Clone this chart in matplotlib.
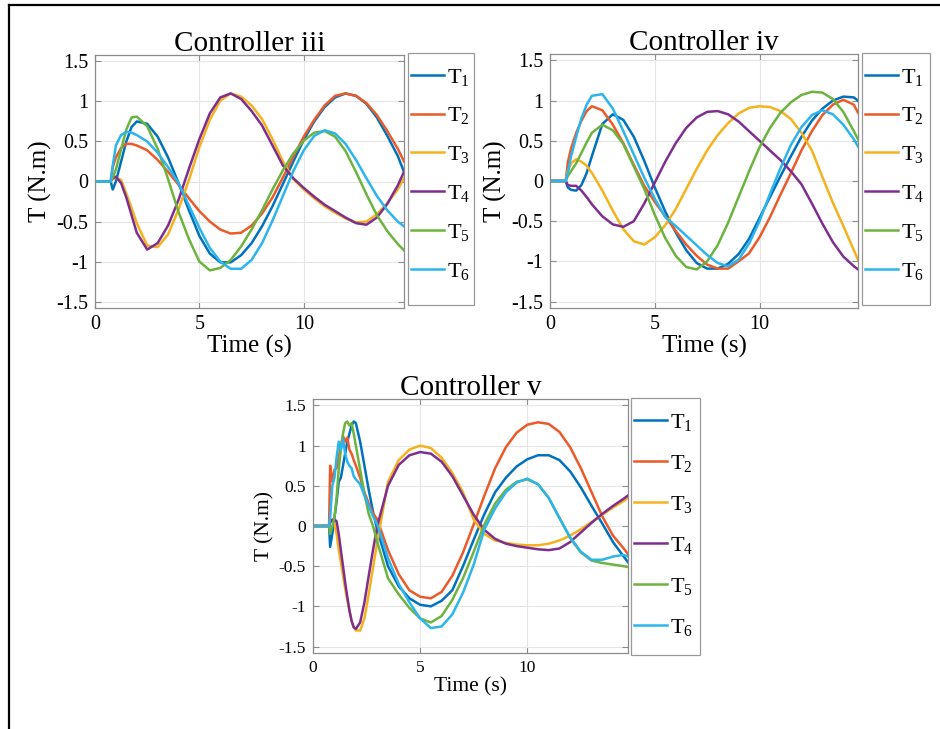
import matplotlib
matplotlib.use("Agg")
import matplotlib.pyplot as plt
from matplotlib.lines import Line2D
from matplotlib.patches import Rectangle
from matplotlib.ticker import FormatStrFormatter

plt.rcParams["font.family"] = ["Liberation Serif", "DejaVu Serif"]
plt.rcParams["mathtext.fontset"] = "custom"
plt.rcParams["mathtext.rm"] = "Liberation Serif"
plt.rcParams["mathtext.it"] = "Liberation Serif:italic"
plt.rcParams["axes.unicode_minus"] = False

colors = ["#0072BD", "#EB5A28", "#F5B21E", "#7E2F8E", "#6DB33F", "#2BB5EC"]
labels = ["T$_{%d}$" % (k + 1) for k in range(6)]

# ---- Controller iii ----
t_iii = [0, 0.75, 0.85, 1.0, 1.25, 1.5, 1.75, 2.0, 2.5, 3.0, 3.5, 4.0, 4.5, 5.0, 5.5, 6.0, 6.5,
         7.0, 7.5, 8.0, 8.5, 9.0, 9.5, 10.0, 10.5, 11.0, 11.5, 12.0, 12.5, 13.0, 13.5, 14.0, 14.5, 14.8]
T1_iii = [0, 0, -0.1, 0.0, 0.25, 0.5, 0.68, 0.75, 0.72, 0.56, 0.30, -0.02, -0.36, -0.68, -0.9, -1.01, -1.01,
          -0.92, -0.77, -0.56, -0.31, -0.03, 0.25, 0.52, 0.75, 0.93, 1.05, 1.1, 1.07, 0.97, 0.8, 0.57, 0.32, 0.12]
T2_iii = [0, 0, 0.18, 0.3, 0.42, 0.47, 0.47, 0.45, 0.39, 0.27, 0.12, -0.04, -0.21, -0.37, -0.5, -0.6, -0.65,
          -0.64, -0.55, -0.4, -0.2, 0.05, 0.31, 0.56, 0.77, 0.95, 1.07, 1.1, 1.07, 0.98, 0.83, 0.63, 0.41, 0.25]
T3_iii = [0, 0, 0.03, 0.05, 0.02, -0.15, -0.33, -0.52, -0.8, -0.82, -0.66, -0.35, 0.02, 0.43, 0.77, 1.01, 1.1,
          1.06, 0.95, 0.78, 0.53, 0.25, 0.03, -0.1, -0.21, -0.31, -0.39, -0.46, -0.51, -0.5, -0.41, -0.27, -0.1, 0.04]
T4_iii = [0, 0, 0.04, 0.06, -0.02, -0.2, -0.42, -0.64, -0.85, -0.77, -0.55, -0.23, 0.16, 0.53, 0.85, 1.05, 1.1,
          1.03, 0.88, 0.7, 0.45, 0.2, 0.04, -0.08, -0.19, -0.29, -0.37, -0.45, -0.52, -0.54, -0.45, -0.28, -0.05, 0.12]
T5_iii = [0, 0, 0.05, 0.15, 0.4, 0.65, 0.8, 0.81, 0.69, 0.41, 0.03, -0.38, -0.72, -1.0, -1.11, -1.08, -0.98,
          -0.81, -0.6, -0.36, -0.1, 0.14, 0.35, 0.51, 0.61, 0.63, 0.56, 0.38, 0.12, -0.16, -0.42, -0.62, -0.78, -0.86]
T6_iii = [0, 0, 0.2, 0.45, 0.58, 0.62, 0.61, 0.58, 0.5, 0.36, 0.18, -0.02, -0.3, -0.58, -0.83, -1.0, -1.09,
          -1.09, -0.98, -0.77, -0.49, -0.18, 0.13, 0.39, 0.57, 0.64, 0.6, 0.47, 0.27, 0.04, -0.18, -0.36, -0.5, -0.56]

# ---- Controller iv ----
t_iv = [0, 0.75, 0.85, 1.0, 1.25, 1.5, 1.75, 2.0, 2.5, 3.0, 3.5, 4.0, 4.5, 5.0, 5.5, 6.0, 6.5,
        7.0, 7.5, 8.0, 8.5, 9.0, 9.5, 10.0, 10.5, 11.0, 11.5, 12.0, 12.5, 13.0, 13.5, 14.0, 14.5, 14.7]
T1_iv = [0, 0, -0.08, -0.11, -0.12, -0.05, 0.1, 0.31, 0.71, 0.83, 0.76, 0.55, 0.25, -0.08, -0.38, -0.64, -0.86,
         -1.02, -1.09, -1.09, -1.03, -0.91, -0.72, -0.46, -0.2, 0.06, 0.31, 0.55, 0.75, 0.9, 1.0, 1.05, 1.04, 1.0]
T2_iv = [0, 0, 0.23, 0.4, 0.6, 0.75, 0.87, 0.93, 0.88, 0.7, 0.47, 0.2, -0.06, -0.26, -0.44, -0.62, -0.79,
         -0.93, -1.04, -1.09, -1.09, -1.0, -0.9, -0.7, -0.45, -0.17, 0.1, 0.38, 0.62, 0.82, 0.95, 1.01, 0.95, 0.85]
T3_iv = [0, 0, 0.12, 0.22, 0.27, 0.24, 0.19, 0.1, -0.12, -0.37, -0.6, -0.75, -0.79, -0.7, -0.55, -0.35, -0.1,
         0.15, 0.38, 0.57, 0.72, 0.84, 0.91, 0.93, 0.92, 0.87, 0.77, 0.6, 0.38, 0.05, -0.27, -0.56, -0.86, -0.98]
T4_iv = [0, 0, -0.05, -0.06, -0.06, -0.12, -0.2, -0.29, -0.44, -0.54, -0.57, -0.5, -0.28, -0.02, 0.24, 0.47, 0.66,
         0.79, 0.86, 0.87, 0.83, 0.74, 0.62, 0.5, 0.38, 0.26, 0.12, -0.04, -0.28, -0.53, -0.76, -0.94, -1.06, -1.1]
T5_iv = [0, 0, 0.06, 0.12, 0.22, 0.35, 0.48, 0.6, 0.7, 0.63, 0.46, 0.18, -0.1, -0.42, -0.71, -0.93, -1.07,
         -1.1, -1.0, -0.8, -0.52, -0.2, 0.12, 0.42, 0.66, 0.85, 0.98, 1.07, 1.11, 1.1, 1.02, 0.86, 0.62, 0.52]
T6_iv = [0, 0, 0.1, 0.3, 0.55, 0.78, 0.95, 1.06, 1.08, 0.9, 0.62, 0.33, 0.04, -0.22, -0.45, -0.56, -0.68,
         -0.8, -0.92, -1.02, -1.06, -0.98, -0.78, -0.5, -0.16, 0.16, 0.45, 0.67, 0.82, 0.88, 0.83, 0.7, 0.52, 0.43]

# ---- Controller v ----
t_v = [0, 0.75, 0.8, 0.9, 1.0, 1.1, 1.2, 1.3, 1.4, 1.5, 1.6, 1.7, 1.8, 1.9, 2.0, 2.2, 2.4, 2.6, 2.8,
       3.0, 3.5, 4.0, 4.5, 5.0, 5.5, 6.0, 6.5, 7.0, 7.5, 8.0, 8.5, 9.0, 9.5, 10.0, 10.5, 11.0, 11.5,
       12.0, 12.5, 13.0, 13.5, 14.0, 14.5, 14.7]
T1_v = [0, 0, -0.26, -0.1, 0.1, 0.3, 0.55, 0.6, 0.75, 0.9, 1.05, 1.15, 1.25, 1.3, 1.28, 1.05, 0.75, 0.45, 0.18,
        -0.05, -0.5, -0.75, -0.9, -0.98, -1.0, -0.93, -0.8, -0.5, -0.17, 0.15, 0.42, 0.6, 0.74, 0.83, 0.88, 0.88, 0.82,
        0.68, 0.48, 0.25, 0.03, -0.2, -0.38, -0.45]
T2_v = [0, 0, 0.75, 0.55, 0.7, 0.72, 0.85, 1.0, 1.12, 1.05, 1.1, 0.95, 0.9, 0.82, 0.75, 0.6, 0.42, 0.28, 0.16,
        0.08, -0.3, -0.6, -0.8, -0.88, -0.9, -0.82, -0.62, -0.33, 0.02, 0.38, 0.72, 0.98, 1.16, 1.26, 1.29, 1.27, 1.17,
        0.98, 0.72, 0.42, 0.12, -0.12, -0.28, -0.35]
T3_v = [0, 0, 0.05, 0.05, 0.03, -0.1, -0.3, -0.45, -0.62, -0.78, -0.92, -1.05, -1.18, -1.26, -1.3, -1.3, -1.15, -0.85, -0.52,
        -0.2, 0.55, 0.82, 0.95, 1.0, 0.97, 0.85, 0.66, 0.42, 0.08, -0.1, -0.18, -0.21, -0.23, -0.24, -0.24, -0.22, -0.18,
        -0.12, -0.04, 0.05, 0.14, 0.23, 0.31, 0.35]
T4_v = [0, 0, 0.05, 0.08, 0.08, 0.06, -0.1, -0.3, -0.5, -0.7, -0.88, -1.05, -1.18, -1.26, -1.28, -1.2, -0.95, -0.62, -0.3,
        0.0, 0.5, 0.76, 0.88, 0.92, 0.9, 0.8, 0.62, 0.38, 0.14, -0.05, -0.16, -0.22, -0.25, -0.27, -0.29, -0.3, -0.28,
        -0.2, -0.08, 0.04, 0.15, 0.25, 0.34, 0.38]
T5_v = [0, 0, -0.1, 0.0, 0.1, 0.35, 0.7, 0.95, 1.15, 1.28, 1.3, 1.25, 1.28, 1.15, 1.0, 0.7, 0.4, 0.15, 0.0,
        -0.2, -0.65, -0.85, -1.02, -1.15, -1.2, -1.12, -0.92, -0.65, -0.32, 0.02, 0.28, 0.45, 0.55, 0.58, 0.52, 0.35, 0.1,
        -0.15, -0.33, -0.43, -0.46, -0.48, -0.5, -0.51]
T6_v = [0, 0, 0.1, 0.5, 0.6, 0.85, 1.05, 0.95, 1.08, 0.9, 0.8, 0.75, 0.72, 0.62, 0.58, 0.52, 0.38, 0.25, 0.12,
        0.02, -0.4, -0.72, -0.95, -1.15, -1.27, -1.25, -1.1, -0.83, -0.48, -0.04, 0.22, 0.42, 0.54, 0.59, 0.52, 0.35, 0.1,
        -0.14, -0.32, -0.42, -0.42, -0.38, -0.36, -0.38]

yticks = [-1.5, -1, -0.5, 0, 0.5, 1, 1.5]
xticks = [0, 5, 10]

W, H = 940, 729
fig = plt.figure(figsize=(W / 100, H / 100), dpi=100)


def panel(rect, t, series, title, xmax, fs_tick, fs_lab, leg_box, spacing):
    l, top, r, bot = rect
    ax = fig.add_axes([l / W, 1 - bot / H, (r - l) / W, (bot - top) / H])
    for s, c, lab in zip(series, colors, labels):
        ax.plot(t, s, color=c, lw=1.8, label=lab)
    ax.set_xlim(0, xmax)
    ax.set_ylim(-1.58, 1.58)
    ax.set_xticks(xticks)
    ax.set_yticks(yticks)
    ax.yaxis.set_major_formatter(FormatStrFormatter("%g"))
    ax.grid(True, color="#e6e6e6", lw=0.8)
    ax.set_axisbelow(True)
    for sp in ax.spines.values():
        sp.set_color("#8c8c8c")
        sp.set_linewidth(0.9)
    ax.tick_params(direction="in", length=4, color="#8c8c8c", width=0.8,
                   top=True, right=True, labelsize=fs_tick, pad=5)
    ax.set_title(title, fontsize=21, pad=3)
    ax.set_xlabel("Time (s)", fontsize=fs_lab, labelpad=1)
    ax.set_ylabel("T (N.m)", fontsize=fs_lab, labelpad=3)

    # legend entries (no frame) and a separate box around them
    bl, bt, br, bb = leg_box
    anchor = ((bl - 4 - l) / (r - l), (bot - bt - 7) / (bot - top))
    ax.legend(loc="upper left", bbox_to_anchor=anchor, borderaxespad=0,
              fontsize=16, handlelength=1.48, handletextpad=0.15,
              labelspacing=spacing, borderpad=0.3, frameon=False)
    fig.add_artist(Rectangle((bl / W, 1 - bb / H), (br - bl) / W, (bb - bt) / H,
                             transform=fig.transFigure, fill=False,
                             ec="#999999", lw=0.9))
    return ax


panel((95, 55, 404, 308), t_iii, [T1_iii, T2_iii, T3_iii, T4_iii, T5_iii, T6_iii],
      "Controller iii", 14.8, 14.5, 18, (408, 53, 474, 305), 0.8)
panel((550, 54, 858, 308), t_iv, [T1_iv, T2_iv, T3_iv, T4_iv, T5_iv, T6_iv],
      "Controller iv", 14.7, 14.5, 18, (862, 53, 930, 305), 0.8)
panel((313, 399, 628, 653), t_v, [T1_v, T2_v, T3_v, T4_v, T5_v, T6_v],
      "Controller v", 14.7, 12.5, 15.5, (631, 398, 700, 655), 0.9)

# outer frame of the picture (left and top edges)
fig.add_artist(Line2D([9 / W, 9 / W], [0, 1 - 5 / H], color="black", lw=1.6))
fig.add_artist(Line2D([9 / W, 1], [1 - 5 / H, 1 - 5 / H], color="black", lw=1.6))

fig.savefig("out.png", dpi=100)
